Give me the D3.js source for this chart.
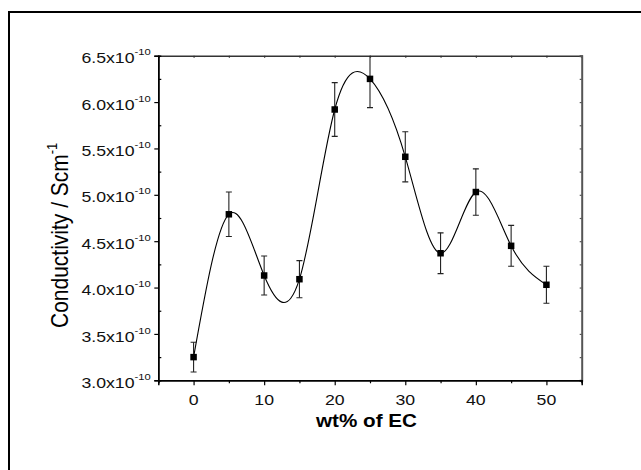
<!DOCTYPE html>
<html>
<head>
<meta charset="utf-8">
<script src="https://cdn.jsdelivr.net/npm/d3@7"></script>
<style>
  html, body { margin: 0; padding: 0; background: #fff; }
  svg { display: block; font-family: "Liberation Sans", Arial, sans-serif; }
</style>
</head>
<body>
<svg id="chart" width="641" height="470"></svg>
<script>
// EC content (wt%) and measured conductivity (in units of 1e-10 S/cm)
const wtEC = [0, 5, 10, 15, 20, 25, 30, 35, 40, 45, 50];
const conductivity = [3.25, 4.79, 4.13, 4.09, 5.92, 6.25, 5.41, 4.37, 5.03, 4.45, 4.03];
const conductivityErr = [0.16, 0.24, 0.21, 0.20, 0.29, 0.31, 0.27, 0.22, 0.25, 0.22, 0.20];

const xTicks = [0, 10, 20, 30, 40, 50];
const xMinorTicks = [-5, 5, 15, 25, 35, 45, 55];
const yTicks = [3.0, 3.5, 4.0, 4.5, 5.0, 5.5, 6.0, 6.5];
const yMinorTicks = [3.25, 3.75, 4.25, 4.75, 5.25, 5.75, 6.25];
const yTickExponent = "-10";

const xTitle = "wt% of EC";
const yTitle = "Conductivity / Scm";
const yTitleSup = "-1";

const svg = d3.select("#chart");
const W = 641, H = 470;
const plot = { left: 158.3, right: 581.7, top: 55.7, bottom: 380.3 };
const stretch = 1.18; // horizontal glyph stretch used for all text

const x = d3.scaleLinear().domain([-5, 55]).range([plot.left, plot.right]);
const y = d3.scaleLinear().domain([3.0, 6.5]).range([plot.bottom, plot.top]);

// outer frame
svg.append("rect")
  .attr("x", 9).attr("y", 12)
  .attr("width", 700).attr("height", 600)
  .attr("fill", "none").attr("stroke", "#000").attr("stroke-width", 2);

// clip for data
svg.append("clipPath").attr("id", "plotClip")
  .append("rect")
  .attr("x", plot.left).attr("y", plot.top)
  .attr("width", plot.right - plot.left).attr("height", plot.bottom - plot.top);

// axes
const bottomMajor = d3.axisBottom(x).tickValues(xTicks).tickSize(5).tickFormat("");
const bottomMinor = d3.axisBottom(x).tickValues(xMinorTicks).tickSize(3).tickFormat("");
const leftMajor = d3.axisLeft(y).tickValues(yTicks).tickSize(4).tickFormat("");
const leftMinor = d3.axisLeft(y).tickValues(yMinorTicks).tickSize(-3).tickFormat("");
const topTicks = d3.axisTop(x).tickValues(xTicks.concat(xMinorTicks)).tickSize(-2).tickFormat("");
const rightTicks = d3.axisRight(y).tickValues(yTicks.concat(yMinorTicks)).tickSize(-2).tickFormat("");

function styleAxis(g, color, width) {
  g.select(".domain").attr("stroke", color).attr("stroke-width", width);
  g.selectAll(".tick line").attr("stroke", color).attr("stroke-width", 1.2);
}

svg.append("g").attr("transform", `translate(0,${plot.top})`).call(topTicks)
  .call(g => styleAxis(g, "#333", 1.5));
svg.append("g").attr("transform", `translate(${plot.right},0)`).call(rightTicks)
  .call(g => styleAxis(g, "#555", 2));
svg.append("g").attr("transform", `translate(0,${plot.bottom})`).call(bottomMinor)
  .call(g => styleAxis(g, "#000", 1.5));
svg.append("g").attr("transform", `translate(0,${plot.bottom})`).call(bottomMajor)
  .call(g => styleAxis(g, "#000", 1.5));
svg.append("g").attr("transform", `translate(${plot.left},0)`).call(leftMinor)
  .call(g => styleAxis(g, "#000", 1.5));
svg.append("g").attr("transform", `translate(${plot.left},0)`).call(leftMajor)
  .call(g => styleAxis(g, "#000", 1.5));
svg.selectAll(".domain").attr("fill", "none");

// x tick labels
svg.append("g").selectAll("g")
  .data(xTicks).join("g")
  .attr("transform", d => `translate(${x(d)},405) scale(${stretch},1)`)
  .append("text")
  .attr("text-anchor", "middle")
  .attr("font-size", 15)
  .attr("fill", "#111")
  .text(d => d);

// y tick labels with exponent
const yl = svg.append("g").selectAll("g")
  .data(yTicks).join("g")
  .attr("transform", d => `translate(150.7,${y(d) + 7.6}) scale(${stretch},1)`)
  .append("text")
  .attr("text-anchor", "end")
  .attr("font-size", 15)
  .attr("fill", "#111");
yl.append("tspan").text(d => d.toFixed(1) + "x10");
yl.append("tspan").attr("dy", -8).attr("font-size", 9.5).text(yTickExponent);

// axis titles
svg.append("g")
  .attr("transform", `translate(366.5,426.5) scale(${stretch},1)`)
  .append("text")
  .attr("text-anchor", "middle")
  .attr("font-size", 17.5)
  .attr("font-weight", "bold")
  .attr("fill", "#000")
  .text(xTitle);

const yt = svg.append("g")
  .attr("transform", `translate(67.5,328) scale(${stretch},1) rotate(-90)`)
  .append("text")
  .attr("text-anchor", "start")
  .attr("font-size", 21)
  .attr("fill", "#000");
yt.append("tspan").text(yTitle);
yt.append("tspan").attr("dy", -9).attr("font-size", 13).text(yTitleSup);

// data layer
const data = wtEC.map((w, i) => ({ w, v: conductivity[i], e: conductivityErr[i] }));
const layer = svg.append("g").attr("clip-path", "url(#plotClip)");

// smooth spline through the points
const line = d3.line().x(d => x(d.w)).y(d => y(d.v)).curve(d3.curveNatural);
layer.append("path")
  .datum(data)
  .attr("d", line)
  .attr("fill", "none")
  .attr("stroke", "#000")
  .attr("stroke-width", 1.1);

// error bars
const eb = layer.append("g").attr("stroke", "#222").attr("stroke-width", 1.1);
eb.selectAll("line.stem").data(data).join("line").attr("class", "stem")
  .attr("x1", d => x(d.w)).attr("x2", d => x(d.w))
  .attr("y1", d => y(d.v - d.e)).attr("y2", d => y(d.v + d.e));
eb.selectAll("line.capTop").data(data).join("line").attr("class", "capTop")
  .attr("x1", d => x(d.w) - 3).attr("x2", d => x(d.w) + 3)
  .attr("y1", d => y(d.v + d.e)).attr("y2", d => y(d.v + d.e));
eb.selectAll("line.capBot").data(data).join("line").attr("class", "capBot")
  .attr("x1", d => x(d.w) - 3).attr("x2", d => x(d.w) + 3)
  .attr("y1", d => y(d.v - d.e)).attr("y2", d => y(d.v - d.e));

// square markers
const ms = 6.5;
layer.append("g").selectAll("rect").data(data).join("rect")
  .attr("x", d => x(d.w) - ms / 2).attr("y", d => y(d.v) - ms / 2)
  .attr("width", ms).attr("height", ms)
  .attr("fill", "#000");
</script>
</body>
</html>
